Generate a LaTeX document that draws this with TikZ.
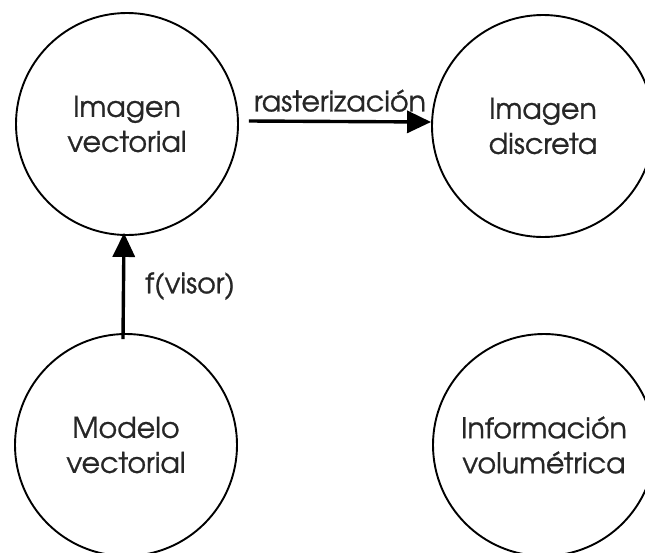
\documentclass[tikz,border=0pt]{standalone}
\usepackage{fontspec}
\setmainfont{texgyreadventor-regular.otf}[FakeBold=0.9]
\usetikzlibrary{arrows.meta}
\begin{document}
\begin{tikzpicture}[x=1pt,y=-1pt,
  stage/.style={circle,draw,line width=1.9pt,minimum size=222pt,inner sep=0pt,
    align=center,text=black!85,font=\fontsize{28.5}{35}\selectfont},
  flow/.style={line width=3.4pt,-{Triangle[length=24pt,width=22pt]}},
  lbl/.style={inner sep=0pt,text=black!85,font=\fontsize{28.5}{32}\selectfont}]
\useasboundingbox (0,0) rectangle (645,552);
% the four stages of the pipeline
\node[stage] (vi) at (127,124) {Imagen\\vectorial};
\node[stage] (id) at (543,126) {Imagen\\discreta};
\node[stage] (mv) at (126,445) {Modelo\\vectorial};
\node[stage] (iv) at (544,445) {Información\\volumétrica};
% transformations between stages
\draw[flow] ([xshift=10pt,yshift=3pt]vi.east) -- ([yshift=4pt]id.west)
  node[lbl,midway,above=8pt] {rasterización};
\draw[flow] ([xshift=-3pt,yshift=-6pt]mv.north) -- ([xshift=-3pt,yshift=3pt]vi.south)
  node[lbl,midway,right=20pt] {f(visor)};
\end{tikzpicture}
\end{document}
